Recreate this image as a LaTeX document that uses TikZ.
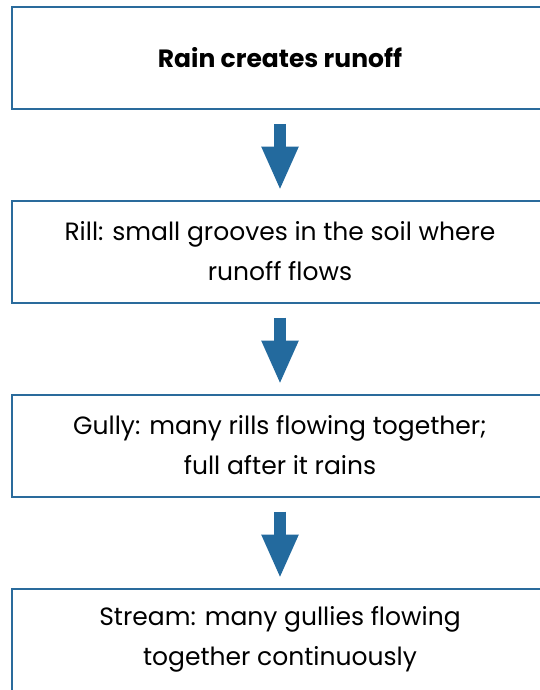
\documentclass[tikz,border=0pt]{standalone}
\usepackage{fontspec}
\setmainfont{Poppins}
\usetikzlibrary{arrows.meta}
\definecolor{boxblue}{HTML}{2A6B9C}
\definecolor{arrowblue}{HTML}{236A9E}
\tikzset{
  stepbox/.style={draw=boxblue, line width=2pt, fill=white, minimum width=536pt, minimum height=102pt, inner sep=0pt, align=center, font=\fontsize{25}{40}\selectfont},
  bigarrow/.style={draw=arrowblue, line width=12pt, -{Triangle[width=34pt,length=44pt]}, shorten <=14pt, shorten >=9pt}
}
\begin{document}
\begin{tikzpicture}[x=1pt,y=-1pt]
\useasboundingbox (0,0) rectangle (540,690);
\clip (0,0) rectangle (540,690);
\node[stepbox] (b1) at (280,58) {\textbf{Rain creates runoff}};
\node[stepbox] (b2) at (280,251.5) {Rill: small grooves in the soil where\\runoff flows};
\node[stepbox] (b3) at (280,445.5) {Gully: many rills flowing together;\\full after it rains};
\node[stepbox] (b4) at (280,639.5) {Stream: many gullies flowing\\together continuously};
\draw[bigarrow] (b1.south) -- (b2.north);
\draw[bigarrow] (b2.south) -- (b3.north);
\draw[bigarrow] (b3.south) -- (b4.north);
\end{tikzpicture}
\end{document}
